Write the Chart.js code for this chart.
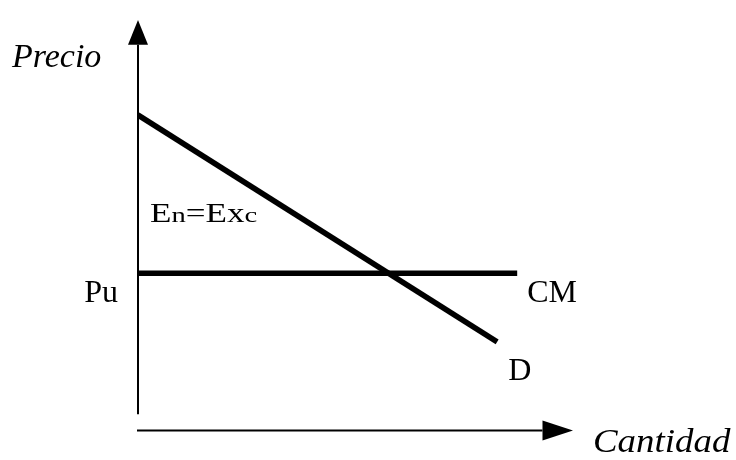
<!DOCTYPE html>
<html>
<head>
<meta charset="utf-8">
<script src="https://cdn.jsdelivr.net/npm/chart.js@4"></script>
<style>
  html, body { margin: 0; padding: 0; background: #fff; }
  #wrap { width: 736px; height: 460px; }
</style>
</head>
<body>
<div id="wrap"><canvas id="chart"></canvas></div>
<script>
// quantity on x, price on y, both on a 0-100 scale
const demandQ = [0.2, 82.6];
const demandP = [76.9, 21.7];
const cmQ = [0, 87.2];
const cmP = [38.4, 38.4];

const axisLabelY = 'Precio';
const axisLabelX = 'Cantidad';
const priceLabel = 'Pu';
const cmLabel = 'CM';
const demandLabel = 'D';

const toPoints = (xs, ys) => xs.map((v, i) => ({ x: v, y: ys[i] }));

const diagram = {
  id: 'diagram',
  afterDraw(chart) {
    const ctx = chart.ctx;
    const sx = chart.scales.x, sy = chart.scales.y;
    const px = v => sx.getPixelForValue(v);
    const py = v => sy.getPixelForValue(v);
    ctx.save();
    ctx.fillStyle = '#000';
    ctx.strokeStyle = '#000';
    ctx.lineWidth = 2;

    // vertical axis with arrow
    const ax = px(0) + 1;
    ctx.beginPath();
    ctx.moveTo(ax, py(4.1));
    ctx.lineTo(ax, py(94));
    ctx.stroke();
    ctx.beginPath();
    ctx.moveTo(ax, py(100));
    ctx.lineTo(ax - 10, py(94));
    ctx.lineTo(ax + 10, py(94));
    ctx.closePath();
    ctx.fill();

    // horizontal axis with arrow
    const ay = py(0) - 0.5;
    ctx.beginPath();
    ctx.moveTo(px(0), ay);
    ctx.lineTo(px(93), ay);
    ctx.stroke();
    ctx.beginPath();
    ctx.moveTo(px(100), ay);
    ctx.lineTo(px(93), ay - 10);
    ctx.lineTo(px(93), ay + 10);
    ctx.closePath();
    ctx.fill();

    // labels
    ctx.textBaseline = 'alphabetic';
    ctx.font = 'italic 34px "Liberation Serif"';
    ctx.textAlign = 'left';
    ctx.fillText(axisLabelY, 12, 67);
    ctx.save();
    ctx.translate(593, 452);
    ctx.scale(1.085, 1);
    ctx.fillText(axisLabelX, 0, 0);
    ctx.restore();

    ctx.font = '32px "Liberation Serif"';
    ctx.textAlign = 'right';
    ctx.fillText(priceLabel, px(0) - 19, py(cmP[0]) + 29);
    ctx.textAlign = 'left';
    ctx.fillText(cmLabel, px(cmQ[1]) + 10, py(cmP[1]) + 29);
    ctx.fillText(demandLabel, px(demandQ[1]) + 11, py(demandP[1]) + 38);

    // En=Exc, drawn a bit wide like the original
    ctx.translate(150, 222);
    ctx.scale(1.3, 1);
    let x = 0;
    const parts = [['E', 27], ['n', 22], ['=', 27], ['E', 27], ['x', 27], ['c', 22]];
    parts.forEach(([t, size]) => {
      ctx.font = size + 'px "Liberation Serif"';
      ctx.fillText(t, x, 0);
      x += ctx.measureText(t).width;
    });
    ctx.restore();
  }
};

new Chart(document.getElementById('chart'), {
  type: 'line',
  data: {
    datasets: [
      {
        label: 'D',
        data: toPoints(demandQ, demandP),
        borderColor: '#000',
        borderWidth: 5.5,
        pointRadius: 0,
        fill: false
      },
      {
        label: 'CM',
        data: toPoints(cmQ, cmP),
        borderColor: '#000',
        borderWidth: 5.5,
        pointRadius: 0,
        fill: false
      }
    ]
  },
  options: {
    responsive: true,
    maintainAspectRatio: false,
    animation: false,
    layout: { padding: { left: 137, right: 163, top: 20, bottom: 29 } },
    scales: {
      x: { type: 'linear', min: 0, max: 100, display: false },
      y: { type: 'linear', min: 0, max: 100, display: false }
    },
    plugins: {
      legend: { display: false },
      tooltip: { enabled: false }
    }
  },
  plugins: [diagram]
});
</script>
</body>
</html>
